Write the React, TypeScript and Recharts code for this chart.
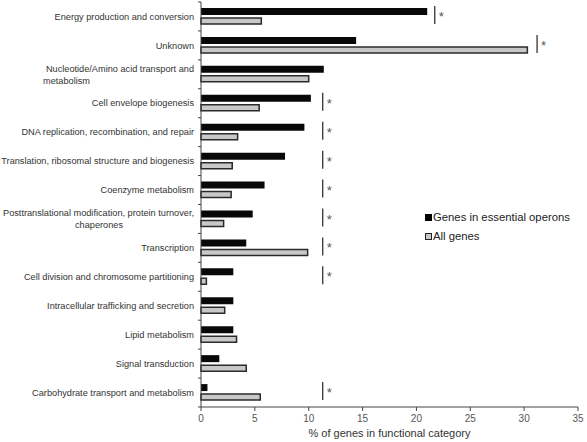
import { BarChart, Bar, XAxis, YAxis } from "recharts";

const categories = [
    "Energy production and conversion",
    "Unknown",
    "Nucleotide/Amino acid transport and\nmetabolism",
    "Cell envelope biogenesis",
    "DNA replication, recombination, and repair",
    "Translation, ribosomal structure and biogenesis",
    "Coenzyme metabolism",
    "Posttranslational modification, protein turnover,\nchaperones",
    "Transcription",
    "Cell division and chromosome partitioning",
    "Intracellular trafficking and secretion",
    "Lipid metabolism",
    "Signal transduction",
    "Carbohydrate transport and metabolism",
];
const essentialPct = [21.0, 14.4, 11.4, 10.2, 9.6, 7.8, 5.9, 4.8, 4.2, 3.0, 3.0, 3.0, 1.7, 0.6];
const allGenesPct = [5.6, 30.3, 10.0, 5.4, 3.4, 2.9, 2.8, 2.1, 9.9, 0.5, 2.2, 3.3, 4.2, 5.5];
// where the "significant" bar + asterisk sits (null = not significant)
const sigMark = [21.7, 31.2, null, 11.3, 11.3, 11.3, 11.3, 11.3, 11.3, 11.3, null, null, null, 11.3];
const xTicks = [0, 5, 10, 15, 20, 25, 30, 35];
const legendLabels = ["Genes in essential operons", "All genes"];

const data = categories.map((name, i) => ({
    name,
    essential: essentialPct[i],
    all: allGenesPct[i],
    sig: sigMark[i],
}));

const FONT = "'Liberation Sans', Arial, sans-serif";
const TOP = 2;
const PLOT_H = 405;
const BAND = PLOT_H / categories.length;
const LABEL_SIZE = 9.2;

const CategoryTick = (props: any) => {
    const { x, y, payload, index } = props;
    const lines = String(payload.value).split("\n");
    const axisX = x + 7;
    const boundary = y - BAND / 2;
    const txt = { fontSize: LABEL_SIZE, fill: "#333", fontFamily: FONT };
    return (
        <g>
            <line x1={axisX - 3} x2={axisX} y1={boundary} y2={boundary} stroke="#444" />
            {index === categories.length - 1 && (
                <line x1={axisX - 3} x2={axisX} y1={y + BAND / 2} y2={y + BAND / 2} stroke="#444" />
            )}
            {lines.length === 1 ? (
                <text x={x} y={y} dy="0.35em" textAnchor="end" {...txt}>
                    {lines[0]}
                </text>
            ) : (
                <g>
                    <text x={x} y={y - 6} dy="0.35em" textAnchor="end" {...txt}>
                        {lines[0]}
                    </text>
                    {lines[0].startsWith("Nucleotide") ? (
                        <text x={43} y={y + 6} dy="0.35em" textAnchor="start" {...txt}>
                            {lines[1]}
                        </text>
                    ) : (
                        <text x={99} y={y + 6} dy="0.35em" textAnchor="middle" {...txt}>
                            {lines[1]}
                        </text>
                    )}
                </g>
            )}
        </g>
    );
};

const SigMark = (props: any) => {
    const { x, y, width, height, payload } = props;
    if (!payload || payload.sig == null) return null;
    const lx = x + width;
    return (
        <g>
            <line x1={lx} x2={lx} y1={y - 1} y2={y + height - 1} stroke="#333" strokeWidth={1.3} />
            <text x={lx + 4} y={y + height / 2 + 5} fontSize={13} fill="#555" fontFamily={FONT}>
                *
            </text>
        </g>
    );
};

export default function App() {
    return (
        <div style={{ position: "absolute", left: 0, top: 0, width: 587, height: 442, background: "#fff" }}>
            <BarChart
                width={587}
                height={442}
                data={data}
                layout="vertical"
                margin={{ top: TOP, right: 9, left: 5, bottom: 5 }}
                barGap={3}
            >
                <XAxis
                    type="number"
                    domain={[0, 35]}
                    ticks={xTicks}
                    height={30}
                    stroke="#444"
                    tickSize={4}
                    tickMargin={4}
                    tick={{ fontSize: 10, fill: "#555", fontFamily: FONT }}
                    label={{
                        value: "% of genes in functional category",
                        position: "insideBottom",
                        offset: 0,
                        fontSize: 11,
                        fill: "#333",
                        fontFamily: FONT,
                    }}
                />
                <YAxis
                    yAxisId="cat"
                    type="category"
                    dataKey="name"
                    width={196}
                    stroke="#444"
                    tickLine={false}
                    tickSize={7}
                    tickMargin={0}
                    interval={0}
                    tick={<CategoryTick />}
                />
                <YAxis yAxisId="sig" type="category" dataKey="name" hide />
                <Bar yAxisId="cat" dataKey="essential" fill="#080808" barSize={7} isAnimationActive={false} />
                <Bar
                    yAxisId="cat"
                    dataKey="all"
                    fill="#c8c8c8"
                    stroke="#2a2a2a"
                    strokeWidth={1.5}
                    barSize={6}
                    isAnimationActive={false}
                />
                <Bar yAxisId="sig" dataKey="sig" barSize={18} shape={<SigMark />} isAnimationActive={false} />
            </BarChart>
            <div
                style={{
                    position: "absolute",
                    left: 425,
                    top: 208,
                    fontFamily: FONT,
                    fontSize: 11.3,
                    color: "#222",
                    lineHeight: "19px",
                }}
            >
                <div style={{ display: "flex", alignItems: "center" }}>
                    <span style={{ width: 7, height: 7, background: "#000", display: "inline-block", marginRight: 1 }} />
                    {legendLabels[0]}
                </div>
                <div style={{ display: "flex", alignItems: "center" }}>
                    <span
                        style={{
                            width: 5,
                            height: 5,
                            background: "#c8c8c8",
                            border: "1px solid #222",
                            display: "inline-block",
                            marginRight: 1,
                        }}
                    />
                    {legendLabels[1]}
                </div>
            </div>
        </div>
    );
}
